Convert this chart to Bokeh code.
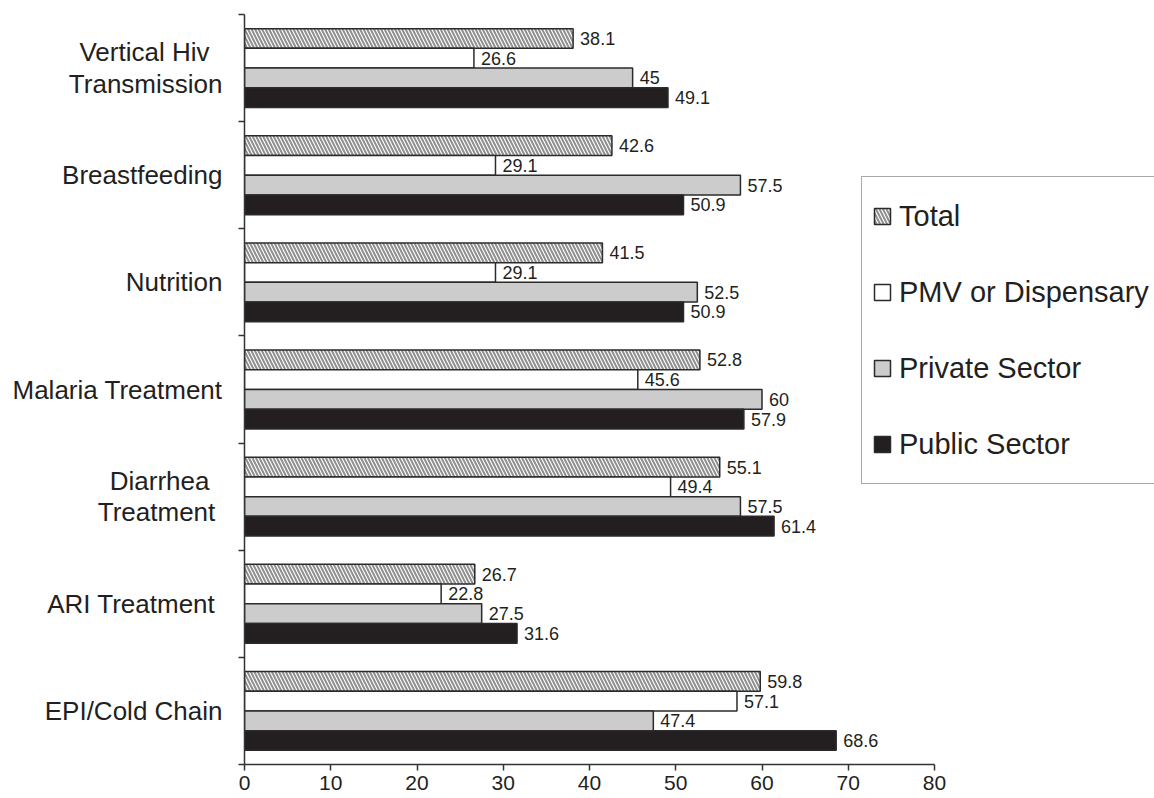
from bokeh.plotting import figure
from bokeh.models import ColumnDataSource, FixedTicker, Legend, LegendItem, Range1d
from bokeh.core.properties import value
from bokeh.embed import file_html
from bokeh.resources import INLINE

categories = ["Vertical Hiv\u2002\nTransmission", "Breastfeeding", "Nutrition", "Malaria Treatment",
              "Diarrhea\u2002\nTreatment\u00a0", "ARI Treatment\u00a0", "EPI/Cold Chain"]
series_names = ["Total", "PMV or Dispensary", "Private Sector", "Public Sector"]
total = [38.1, 42.6, 41.5, 52.8, 55.1, 26.7, 59.8]
pmv = [26.6, 29.1, 29.1, 45.6, 49.4, 22.8, 57.1]
private = [45, 57.5, 52.5, 60, 57.5, 27.5, 47.4]
public = [49.1, 50.9, 50.9, 57.9, 61.4, 31.6, 68.6]
x_ticks = [0, 10, 20, 30, 40, 50, 60, 70, 80]

FONT = "Liberation Sans"
TXT = "#231f20"
n = len(categories)
bar_h = 0.184
W, H = 1154, 798
left, top, bottom = 244, 14, 764
px_per_unit = (934 - 244) / 80.0
x_end = (W - left) / px_per_unit

p = figure(width=W, height=H, output_backend="svg", toolbar_location=None,
           x_range=Range1d(0, x_end), y_range=Range1d(0, n),
           min_border_left=left, min_border_right=0, min_border_top=top,
           min_border_bottom=H - bottom)
p.outline_line_color = None
p.grid.visible = False

centers = [n - i - 0.5 for i in range(n)]
styles = [
    dict(fill_color="white", hatch_pattern="\\", hatch_color="#8f8f8f", hatch_scale=7, hatch_weight=2),
    dict(fill_color="white"),
    dict(fill_color="#cccccc"),
    dict(fill_color="#231f20"),
]
offsets = [1.5, 0.5, -0.5, -1.5]
items = []
for name, vals, st, off in zip(series_names, [total, pmv, private, public], styles, offsets):
    src = ColumnDataSource(dict(y=[c + off * bar_h for c in centers], v=vals,
                                lab=[("%g" % v) for v in vals]))
    r = p.hbar(y="y", right="v", left=0, height=bar_h, source=src,
               line_color="#2b2b2b", line_width=1.5, **st)
    p.text(x="v", y="y", text="lab", source=src, x_offset=7, text_baseline="middle",
           text_align="left", text_font=value(FONT), text_font_size="18px", text_color=TXT)
    items.append(LegendItem(label=name, renderers=[r]))

legend = Legend(items=items, location=(861 - left, bottom - 484), padding=10, spacing=18,
                label_height=58, glyph_height=20, glyph_width=20, label_standoff=7,
                label_text_font=FONT, label_text_font_size="29px", label_text_color=TXT,
                border_line_color="#555555", border_line_width=1.2, background_fill_alpha=1,
                margin=0)
p.add_layout(legend, "center")

xa = p.xaxis[0]
xa.bounds = (0, 80)
xa.ticker = FixedTicker(ticks=x_ticks)
xa.major_label_text_font = FONT
xa.major_label_text_font_size = "21px"
xa.major_label_text_color = TXT
xa.axis_line_color = "#333333"
xa.axis_line_width = 1.5
xa.major_tick_line_color = "#333333"
xa.major_tick_line_width = 1.5
xa.major_tick_out = 6
xa.major_tick_in = 0
xa.minor_tick_line_color = None
xa.major_label_standoff = 5

ya = p.yaxis[0]
ya.ticker = FixedTicker(ticks=centers, minor_ticks=list(range(n + 1)))
ya.major_label_overrides = {c: lab for c, lab in zip(centers, categories)}
ya.major_label_text_font = FONT
ya.major_label_text_font_size = "26px"
ya.major_label_text_line_height = 1.05
ya.major_label_text_color = TXT
ya.axis_line_color = "#333333"
ya.axis_line_width = 1.5
ya.major_tick_line_color = None
ya.major_tick_out = 0
ya.major_tick_in = 0
ya.minor_tick_line_color = "#333333"
ya.minor_tick_line_width = 1.5
ya.minor_tick_out = 6
ya.minor_tick_in = 0
ya.major_label_standoff = 16

open("out.html", "w").write(file_html(p, INLINE))
